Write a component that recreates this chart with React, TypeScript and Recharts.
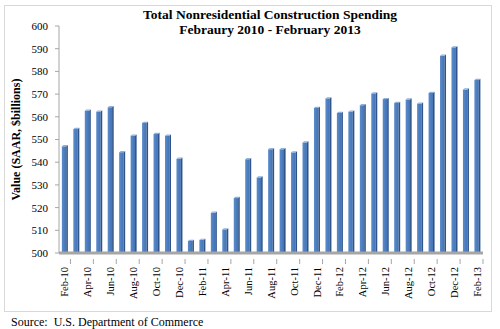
import React from 'react'
import { BarChart, Bar, XAxis, YAxis } from 'recharts'

const months = [
  'Feb-10', 'Mar-10', 'Apr-10', 'May-10', 'Jun-10', 'Jul-10', 'Aug-10', 'Sep-10', 'Oct-10', 'Nov-10', 'Dec-10',
  'Jan-11', 'Feb-11', 'Mar-11', 'Apr-11', 'May-11', 'Jun-11', 'Jul-11', 'Aug-11', 'Sep-11', 'Oct-11', 'Nov-11', 'Dec-11',
  'Jan-12', 'Feb-12', 'Mar-12', 'Apr-12', 'May-12', 'Jun-12', 'Jul-12', 'Aug-12', 'Sep-12', 'Oct-12', 'Nov-12', 'Dec-12',
  'Jan-13', 'Feb-13',
]
const spending = [
  547.0, 554.6, 562.7, 562.3, 564.2, 544.4, 551.7, 557.3, 552.4, 551.7, 541.5,
  505.3, 505.8, 517.7, 510.4, 524.2, 541.3, 533.3, 545.7, 545.7, 544.3, 548.7, 563.9,
  568.1, 561.7, 562.3, 565.1, 570.3, 567.8, 566.1, 567.6, 565.8, 570.5, 586.9, 590.6,
  572.0, 576.2,
]
const yTicks = [500, 510, 520, 530, 540, 550, 560, 570, 580, 590, 600]

const data = months.map((m, i) => ({ month: m, value: spending[i] }))

const serif = '"Liberation Serif", "Times New Roman", serif'
const STEP = 423.6 / 37

function Bar3D(props: any) {
  const { x, y, width, height } = props
  if (height <= 0) return null
  const side = 1.6
  const w = width - side
  return (
    <g>
      <rect x={x} y={y} width={w} height={height} fill="url(#barFront)" />
      <polygon
        points={`${x + w},${y} ${x + width},${y - 1.2} ${x + width},${y + height - 1.2} ${x + w},${y + height}`}
        fill="#2E5489"
      />
      <polygon
        points={`${x},${y} ${x + side},${y - 1.2} ${x + width},${y - 1.2} ${x + w},${y}`}
        fill="#8FB0DC"
      />
    </g>
  )
}

function MonthTick(props: any) {
  const { x, y, payload } = props
  return (
    <g transform={`translate(${x},${y})`}>
      <line x1={STEP / 2} y1={-2} x2={STEP / 2} y2={3} stroke="#A6A6A6" />
      <text
        transform="rotate(-90)"
        x={-6}
        dy="0.35em"
        textAnchor="end"
        fontFamily={serif}
        fontSize={10.5}
        fill="#000"
      >
        {payload.value}
      </text>
    </g>
  )
}

export default function App() {
  return (
    <div style={{ position: 'absolute', left: 0, top: 0, width: 500, height: 329, background: '#fff' }}>
      <div
        style={{
          position: 'absolute', left: 4, top: 5, width: 488, height: 307,
          border: '1px solid #D9D9D9', boxSizing: 'border-box',
        }}
      />
      <div
        style={{
          position: 'absolute', left: 140, top: 7, width: 260, textAlign: 'center',
          fontFamily: serif, fontWeight: 'bold', fontSize: 13.5, lineHeight: '15px', color: '#000',
        }}
      >
        Total Nonresidential Construction Spending
        <br />
        Febraury 2010 - February 2013
      </div>
      <BarChart
        width={500}
        height={329}
        data={data}
        margin={{ top: 26, right: 17, left: 0, bottom: 0 }}
        barCategoryGap="25%"
        style={{ position: 'absolute', left: 0, top: 0 }}
      >
        <defs>
          <linearGradient id="barFront" x1="0" y1="0" x2="1" y2="0">
            <stop offset="0%" stopColor="#5A8BCB" />
            <stop offset="100%" stopColor="#4373B4" />
          </linearGradient>
        </defs>
        <XAxis
          dataKey="month"
          interval={1}
          height={76}
          tickLine={false}
          axisLine={{ stroke: '#A6A6A6', strokeWidth: 3 }}
          tick={<MonthTick />}
        />
        <YAxis
          width={59}
          domain={[500, 600]}
          ticks={yTicks}
          interval={0}
          tickSize={4}
          tickMargin={7}
          axisLine={{ stroke: '#A6A6A6' }}
          tickLine={{ stroke: '#A6A6A6' }}
          tick={{ fontFamily: serif, fontSize: 11, fill: '#000' }}
          label={{
            value: 'Value (SAAR, $billions)',
            angle: -90,
            position: 'center',
            dx: -14,
            style: { fontFamily: serif, fontWeight: 'bold', fontSize: 12, fill: '#000' },
          }}
        />
        <Bar dataKey="value" shape={<Bar3D />} isAnimationActive={false} />
      </BarChart>
      <div
        style={{
          position: 'absolute', left: 11, top: 315, fontFamily: serif, fontSize: 12,
          color: '#000', whiteSpace: 'pre',
        }}
      >
        {'Source:  U.S. Department of Commerce'}
      </div>
    </div>
  )
}
